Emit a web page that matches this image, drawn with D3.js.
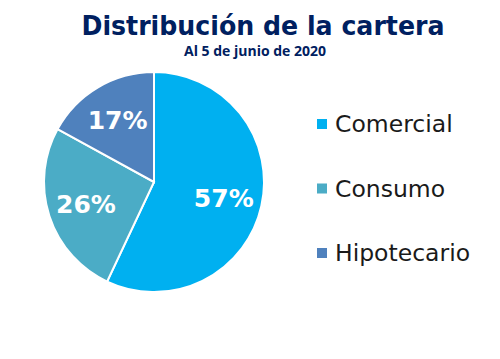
<!DOCTYPE html>
<html>
<head>
<meta charset="utf-8">
<script src="https://cdn.jsdelivr.net/npm/d3@7"></script>
<style>
  body { margin: 0; background: #fff; }
  svg { display: block; }
</style>
</head>
<body>
<div id="chart"></div>
<script>
// Data
const categories = ["Comercial", "Consumo", "Hipotecario"];
const values = [57, 26, 17];
const colors = ["#00B0F0", "#4BACC6", "#4F81BD"];
const title = "Distribución de la cartera";
const subtitle = "Al 5 de junio de 2020";

const width = 500;
const height = 359;
const cx = 154, cy = 182, radius = 110;

const svg = d3.select("#chart")
  .append("svg")
  .attr("width", width)
  .attr("height", height);

// Title
svg.append("text")
  .attr("x", 263)
  .attr("y", 35)
  .attr("text-anchor", "middle")
  .attr("font-family", "'DejaVu Sans', sans-serif")
  .attr("font-weight", "bold")
  .attr("font-size", "26px")
  .attr("textLength", 363)
  .attr("lengthAdjust", "spacingAndGlyphs")
  .attr("fill", "#002060")
  .text(title);

svg.append("text")
  .attr("x", 255)
  .attr("y", 56)
  .attr("text-anchor", "middle")
  .attr("font-family", "'Open Sans', sans-serif")
  .attr("font-weight", "bold")
  .attr("font-size", "14px")
  .attr("fill", "#002060")
  .text(subtitle);

const color = d3.scaleOrdinal()
  .domain(categories)
  .range(colors);

const pie = d3.pie()
  .sort(null)
  .value((d) => d.value);

const data = categories.map((c, i) => ({ name: c, value: values[i] }));
const arcs = pie(data);

const arc = d3.arc().innerRadius(0).outerRadius(radius);
const labelArc = d3.arc().innerRadius(radius * 0.65).outerRadius(radius * 0.65);

const g = svg.append("g")
  .attr("transform", `translate(${cx},${cy})`);

g.selectAll("path")
  .data(arcs)
  .enter()
  .append("path")
  .attr("d", arc)
  .attr("fill", (d) => color(d.data.name))
  .attr("stroke", "#fff")
  .attr("stroke-width", 2);

g.selectAll(".lbl")
  .data(arcs)
  .enter()
  .append("text")
  .attr("class", "lbl")
  .attr("transform", (d) => `translate(${labelArc.centroid(d)})`)
  .attr("text-anchor", "middle")
  .attr("dy", "0.36em")
  .attr("font-family", "'DejaVu Sans', sans-serif")
  .attr("font-weight", "bold")
  .attr("font-size", "25px")
  .attr("fill", "#fff")
  .text((d) => d.data.value + "%");

// Legend
const legend = svg.append("g")
  .attr("transform", "translate(317,0)");

const ly = d3.scalePoint()
  .domain(categories)
  .range([124, 253]);

const item = legend.selectAll(".item")
  .data(categories)
  .enter()
  .append("g")
  .attr("class", "item")
  .attr("transform", (d) => `translate(0,${ly(d)})`);

item.append("rect")
  .attr("x", 0)
  .attr("y", -5)
  .attr("width", 10)
  .attr("height", 10)
  .attr("fill", (d) => color(d));

item.append("text")
  .attr("x", 18)
  .attr("y", 0)
  .attr("dy", "0.35em")
  .attr("font-family", "'DejaVu Sans', sans-serif")
  .attr("font-size", "23.5px")
  .attr("fill", "#1a1a1a")
  .text((d) => d);
</script>
</body>
</html>
